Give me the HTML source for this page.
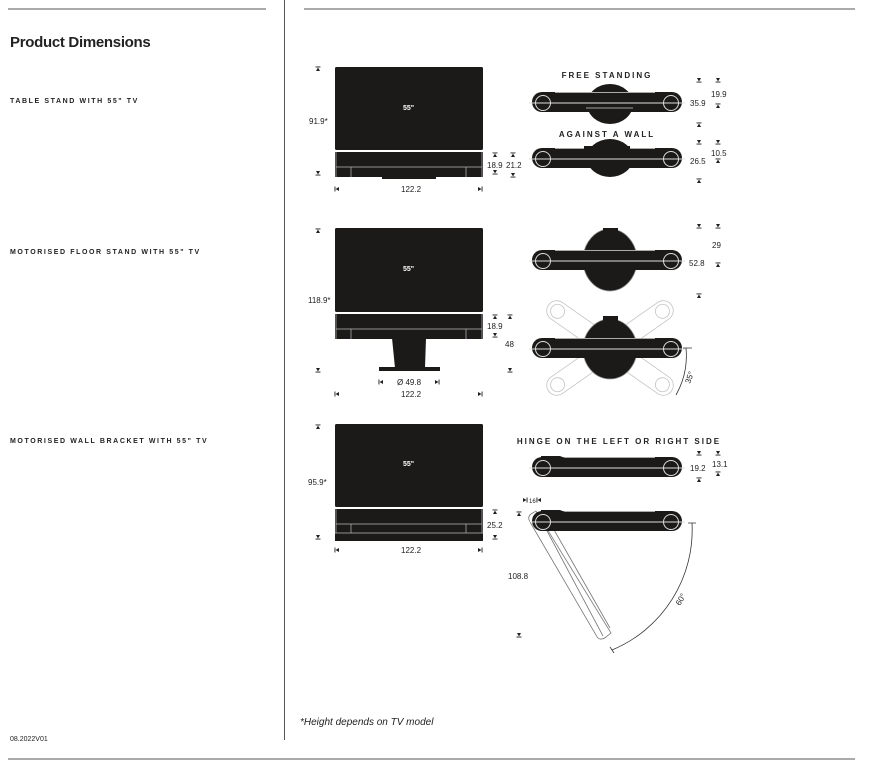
<!DOCTYPE html>
<html><head><meta charset="utf-8"><style>
html,body{margin:0;padding:0;background:#fff}
svg{display:block}
text{font-family:"Liberation Sans",sans-serif;fill:#222}
.l{font-size:7px;font-weight:bold;letter-spacing:1.6px}
.d{font-size:8px}
.w{font-size:7px;font-weight:bold;fill:#fff}
.t{font-size:8px;font-weight:bold;letter-spacing:2px;text-anchor:middle}
</style></head><body>
<svg width="869" height="768" viewBox="0 0 869 768" xmlns="http://www.w3.org/2000/svg">
<defs>
<g id="mt"><rect x="-2.5" y="-2.5" width="5" height="0.9" fill="#222"/><path d="M-2,2 L2,2 L0,-1.5Z" fill="#222"/></g>
<g id="mb"><rect x="-2.5" y="1.6" width="5" height="0.9" fill="#222"/><path d="M-2,-2 L2,-2 L0,1.5Z" fill="#222"/></g>
<g id="ml"><rect x="-2.5" y="-2.5" width="0.9" height="5" fill="#222"/><path d="M2,-2 L2,2 L-1.5,0Z" fill="#222"/></g>
<g id="mr"><rect x="1.6" y="-2.5" width="0.9" height="5" fill="#222"/><path d="M-2,-2 L-2,2 L1.5,0Z" fill="#222"/></g>
<g id="bar">
<rect x="-75" y="-10" width="150" height="20" rx="10" fill="#1c1a18"/>
<line x1="-52" y1="-9.5" x2="48" y2="-9.5" stroke="#aaa" stroke-width="1"/>
<line x1="-78" y1="1" x2="78" y2="1" stroke="#ddd" stroke-width="1"/>
<circle cx="-64" cy="1" r="7.5" fill="none" stroke="#ddd" stroke-width="1"/>
<circle cx="64" cy="1" r="7.5" fill="none" stroke="#ddd" stroke-width="1"/>
</g>
<g id="sb">
<rect x="0" y="0" width="148" height="25" fill="#1c1a18"/>
<path d="M1,0 V25 M147,0 V25 M1,15 H147 M16,15 V25 M131,15 V25" stroke="#bbb" stroke-width="0.7" fill="none"/>
</g>
</defs>
<line x1="8" y1="9" x2="266" y2="9" stroke="#555"/>
<line x1="304" y1="9" x2="855" y2="9" stroke="#555"/>
<line x1="284.5" y1="0" x2="284.5" y2="740" stroke="#555"/>
<line x1="8" y1="759" x2="855" y2="759" stroke="#555"/>
<text x="10" y="47" style="font-size:15px;font-weight:bold;letter-spacing:-0.3px">Product Dimensions</text>
<text class="l" x="10" y="103">TABLE STAND WITH 55" TV</text>
<text class="l" x="10" y="254">MOTORISED FLOOR STAND WITH 55" TV</text>
<text class="l" x="10" y="443">MOTORISED WALL BRACKET WITH 55" TV</text>
<text x="10" y="741" style="font-size:7px">08.2022V01</text>
<text x="300" y="725" style="font-size:10px;font-style:italic">*Height depends on TV model</text>

<!-- Diagram 1 -->
<rect x="335" y="67" width="148" height="83" rx="1.5" fill="#1c1a18"/>
<text class="w" x="403" y="110">55"</text>
<use href="#sb" x="335" y="152"/>
<rect x="382" y="176" width="54" height="3" fill="#1c1a18"/>
<use href="#mt" x="318" y="69"/><use href="#mb" x="318" y="173"/>
<text class="d" x="309" y="124">91.9*</text>
<use href="#ml" x="337" y="189"/><use href="#mr" x="480" y="189"/>
<text class="d" x="401" y="192">122.2</text>
<use href="#mt" x="495" y="155"/><use href="#mt" x="513" y="155"/>
<use href="#mb" x="495" y="172"/><use href="#mb" x="513" y="175"/>
<text class="d" x="487" y="168">18.9</text><text class="d" x="506" y="168">21.2</text>

<text class="t" x="607" y="78">FREE STANDING</text>
<ellipse cx="610" cy="104" rx="23" ry="20" fill="#1c1a18"/>
<use href="#bar" x="607" y="102"/>
<path d="M586,108 H633" stroke="#ccc" stroke-width="0.7"/>
<use href="#mb" x="699" y="80"/><use href="#mb" x="718" y="80"/>
<text class="d" x="690" y="106">35.9</text><text class="d" x="711" y="97">19.9</text>
<use href="#mt" x="718" y="106"/><use href="#mt" x="699" y="125"/>

<text class="t" x="607" y="137">AGAINST A WALL</text>
<ellipse cx="610" cy="158" rx="23" ry="19" fill="#1c1a18"/>
<use href="#bar" x="607" y="158"/>
<rect x="584" y="146" width="46" height="3" fill="#1c1a18"/>
<use href="#mb" x="699" y="142"/><use href="#mb" x="718" y="142"/>
<text class="d" x="690" y="164">26.5</text><text class="d" x="711" y="156">10.5</text>
<use href="#mt" x="718" y="161"/><use href="#mt" x="699" y="181"/>

<!-- Diagram 2 -->
<rect x="335" y="228" width="148" height="84" rx="1.5" fill="#1c1a18"/>
<text class="w" x="403" y="271">55"</text>
<use href="#sb" x="335" y="314"/>
<path d="M392,338 H426 L425,368 H395Z" fill="#1c1a18"/>
<rect x="379" y="367" width="61" height="4" fill="#1c1a18"/>
<use href="#mt" x="318" y="231"/><use href="#mb" x="318" y="370"/>
<text class="d" x="308" y="303">118.9*</text>
<use href="#mt" x="495" y="317"/><use href="#mt" x="510" y="317"/>
<use href="#mb" x="495" y="335"/><use href="#mb" x="510" y="370"/>
<text class="d" x="487" y="329">18.9</text><text class="d" x="505" y="347">48</text>
<use href="#ml" x="381" y="382"/><use href="#mr" x="437" y="382"/>
<text class="d" x="397" y="385">Ø 49.8</text>
<use href="#ml" x="337" y="394"/><use href="#mr" x="480" y="394"/>
<text class="d" x="401" y="397">122.2</text>

<ellipse cx="610" cy="260" rx="27" ry="31" fill="#1c1a18" stroke="#999" stroke-width="0.8"/>
<rect x="603" y="228" width="15" height="5" fill="#1c1a18"/>
<use href="#bar" x="607" y="260"/>
<use href="#mb" x="699" y="226"/><use href="#mb" x="718" y="226"/>
<text class="d" x="689" y="266">52.8</text><text class="d" x="712" y="248">29</text>
<use href="#mt" x="718" y="265"/><use href="#mt" x="699" y="296"/>

<g opacity="0.35" fill="none" stroke="#555" stroke-width="0.8">
<g transform="rotate(35 610 348)"><rect x="535" y="338" width="150" height="20" rx="10"/><circle cx="546" cy="348" r="7"/><circle cx="674" cy="348" r="7"/></g>
<g transform="rotate(-35 610 348)"><rect x="535" y="338" width="150" height="20" rx="10"/><circle cx="546" cy="348" r="7"/><circle cx="674" cy="348" r="7"/></g>
</g>
<ellipse cx="610" cy="349" rx="27" ry="30" fill="#1c1a18" stroke="#999" stroke-width="0.8"/>
<rect x="603" y="316" width="15" height="5" fill="#1c1a18"/>
<use href="#bar" x="607" y="348"/>
<path d="M683,348 H692 M686,348 A80,80 0 0 1 676,395" fill="none" stroke="#333" stroke-width="0.8"/>
<text class="d" transform="translate(690 384) rotate(-70)">35°</text>

<!-- Diagram 3 -->
<rect x="335" y="424" width="148" height="83" rx="1.5" fill="#1c1a18"/>
<text class="w" x="403" y="466">55"</text>
<rect x="335" y="509" width="148" height="32" fill="#1c1a18"/>
<path d="M336,509 V533 M482,509 V533 M336,524 H482 M351,524 V533 M466,524 V533 M335,533 H483" stroke="#bbb" stroke-width="0.7" fill="none"/>
<use href="#mt" x="318" y="427"/><use href="#mb" x="318" y="537"/>
<text class="d" x="308" y="485">95.9*</text>
<use href="#mt" x="495" y="512"/><use href="#mb" x="495" y="537"/>
<text class="d" x="487" y="528">25.2</text>
<use href="#ml" x="337" y="550"/><use href="#mr" x="480" y="550"/>
<text class="d" x="401" y="553">122.2</text>

<text class="t" x="619" y="444">HINGE ON THE LEFT OR RIGHT SIDE</text>
<use href="#bar" x="607" y="467"/>
<path d="M541,458 L541,456 H560 L570,460Z" fill="#1c1a18"/>
<use href="#mb" x="699" y="453"/><use href="#mb" x="718" y="453"/>
<text class="d" x="690" y="471">19.2</text><text class="d" x="712" y="467">13.1</text>
<use href="#mt" x="718" y="474"/><use href="#mt" x="699" y="480"/>

<g fill="none" stroke="#777" stroke-width="0.8">
<path d="M531,514 L536,511 L611,633 L606,637 Q599,642 596,635 L530,522 Q527,517 531,514Z"/>
<path d="M538,514 L603,636 M545,514 L610,628"/>
</g>
<use href="#bar" x="607" y="521"/>
<path d="M541,512 L541,510 H560 L570,514Z" fill="#1c1a18"/>
<use href="#mr" x="525" y="500"/><use href="#ml" x="539" y="500"/>
<text x="529" y="503" style="font-size:6px">16</text>
<use href="#mt" x="519" y="514"/><use href="#mb" x="519" y="635"/>
<text class="d" x="508" y="579">108.8</text>
<path d="M688,523 H696 M692,523 A130,130 0 0 1 612,650 M610,647 L614,653" fill="none" stroke="#333" stroke-width="0.8"/>
<text class="d" transform="translate(680 606) rotate(-60)">60°</text>
</svg>
</body></html>
